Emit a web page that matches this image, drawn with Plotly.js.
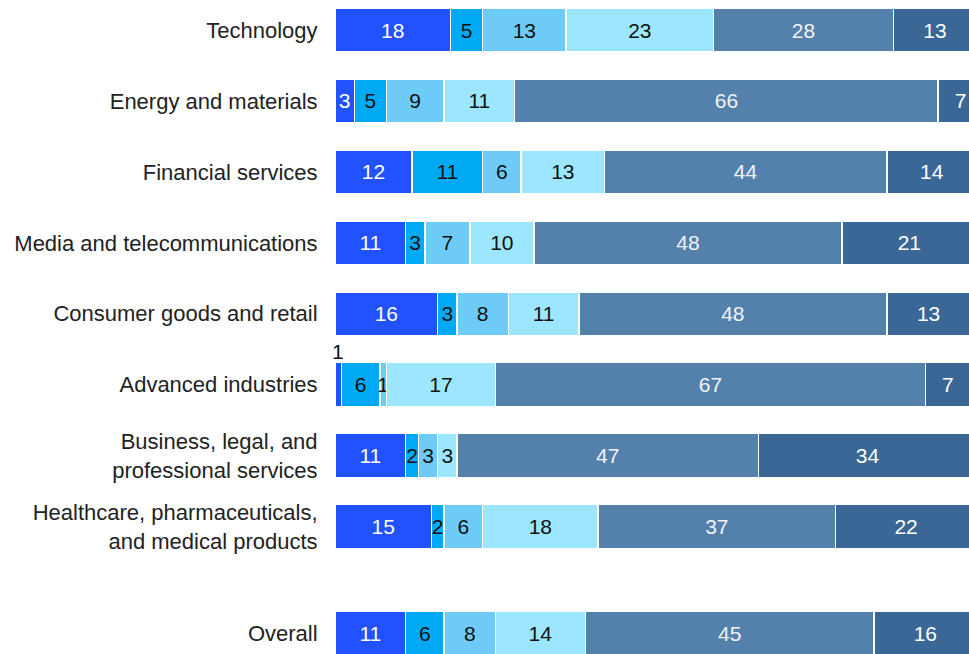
<!DOCTYPE html>
<html>
<head>
<meta charset="utf-8">
<script src="https://cdn.plot.ly/plotly-3.0.1.min.js"></script>
<style>html,body{margin:0;padding:0;background:#fff;}#chart{width:969px;height:654px;}</style>
</head>
<body>
<div id="chart"></div>
<script>
const categories = ["Technology", "Energy and materials", "Financial services", "Media and telecommunications",
  "Consumer goods and retail", "Advanced industries", "Business, legal, and<br>professional services",
  "Healthcare, pharmaceuticals,<br>and medical products", "Overall"];
const positions = [0, 1, 2, 3, 4, 5, 6, 7, 8.5];
const s1 = [18, 3, 12, 11, 16, 1, 11, 15, 11];
const s2 = [5, 5, 11, 3, 3, 6, 2, 2, 6];
const s3 = [13, 9, 6, 7, 8, 1, 3, 6, 8];
const s4 = [23, 11, 13, 10, 11, 17, 3, 18, 14];
const s5 = [28, 66, 44, 48, 48, 67, 47, 37, 45];
const s6 = [13, 7, 14, 21, 13, 7, 34, 22, 16];
const series = [s1, s2, s3, s4, s5, s6];
const colors = ["#2251FF", "#00A9F4", "#6ECBF7", "#9DE6FF", "#5480AC", "#3A6795"];
const textColors = ["#ffffff", "#111111", "#111111", "#111111", "#f2f4f7", "#ffffff"];
const fontFam = "Liberation Sans, Arial, sans-serif";

const traces = series.map((vals, i) => ({
  type: "bar",
  orientation: "h",
  y: positions,
  x: vals,
  width: 0.62,
  marker: {color: colors[i], line: {color: "#ffffff", width: 1.5}},
  text: vals.map(v => (i === 0 && v < 2) ? "" : String(v)),
  textposition: "inside",
  insidetextanchor: "middle",
  textangle: 0,
  constraintext: "none",
  textfont: {family: fontFam, size: 21, color: textColors[i]},
  hoverinfo: "x+y",
  cliponaxis: true
}));

const annotations = [];
s1.forEach((v, k) => {
  if (v < 2) {
    annotations.push({x: v / 2, y: positions[k], xref: "x", yref: "y", text: String(v), showarrow: false,
      yshift: 33, font: {family: fontFam, size: 21, color: "#111"}});
  }
});

const layout = {
  width: 969, height: 654,
  margin: {l: 335, r: 0, t: 0, b: 0},
  barmode: "stack",
  showlegend: false,
  paper_bgcolor: "#ffffff",
  plot_bgcolor: "#ffffff",
  font: {family: fontFam, size: 22, color: "#222"},
  xaxis: {range: [0, 98.8], showgrid: false, zeroline: false, showticklabels: false, showline: false, fixedrange: true},
  yaxis: {range: [8.796, -0.423], tickvals: positions, ticktext: categories, showgrid: false, zeroline: false,
    showline: false, ticks: "outside", ticklen: 12, tickcolor: "rgba(0,0,0,0)",
    tickfont: {family: fontFam, size: 22, color: "#222"}},
  annotations: annotations
};

Plotly.newPlot("chart", traces, layout, {displayModeBar: false, staticPlot: true});
</script>
</body>
</html>
